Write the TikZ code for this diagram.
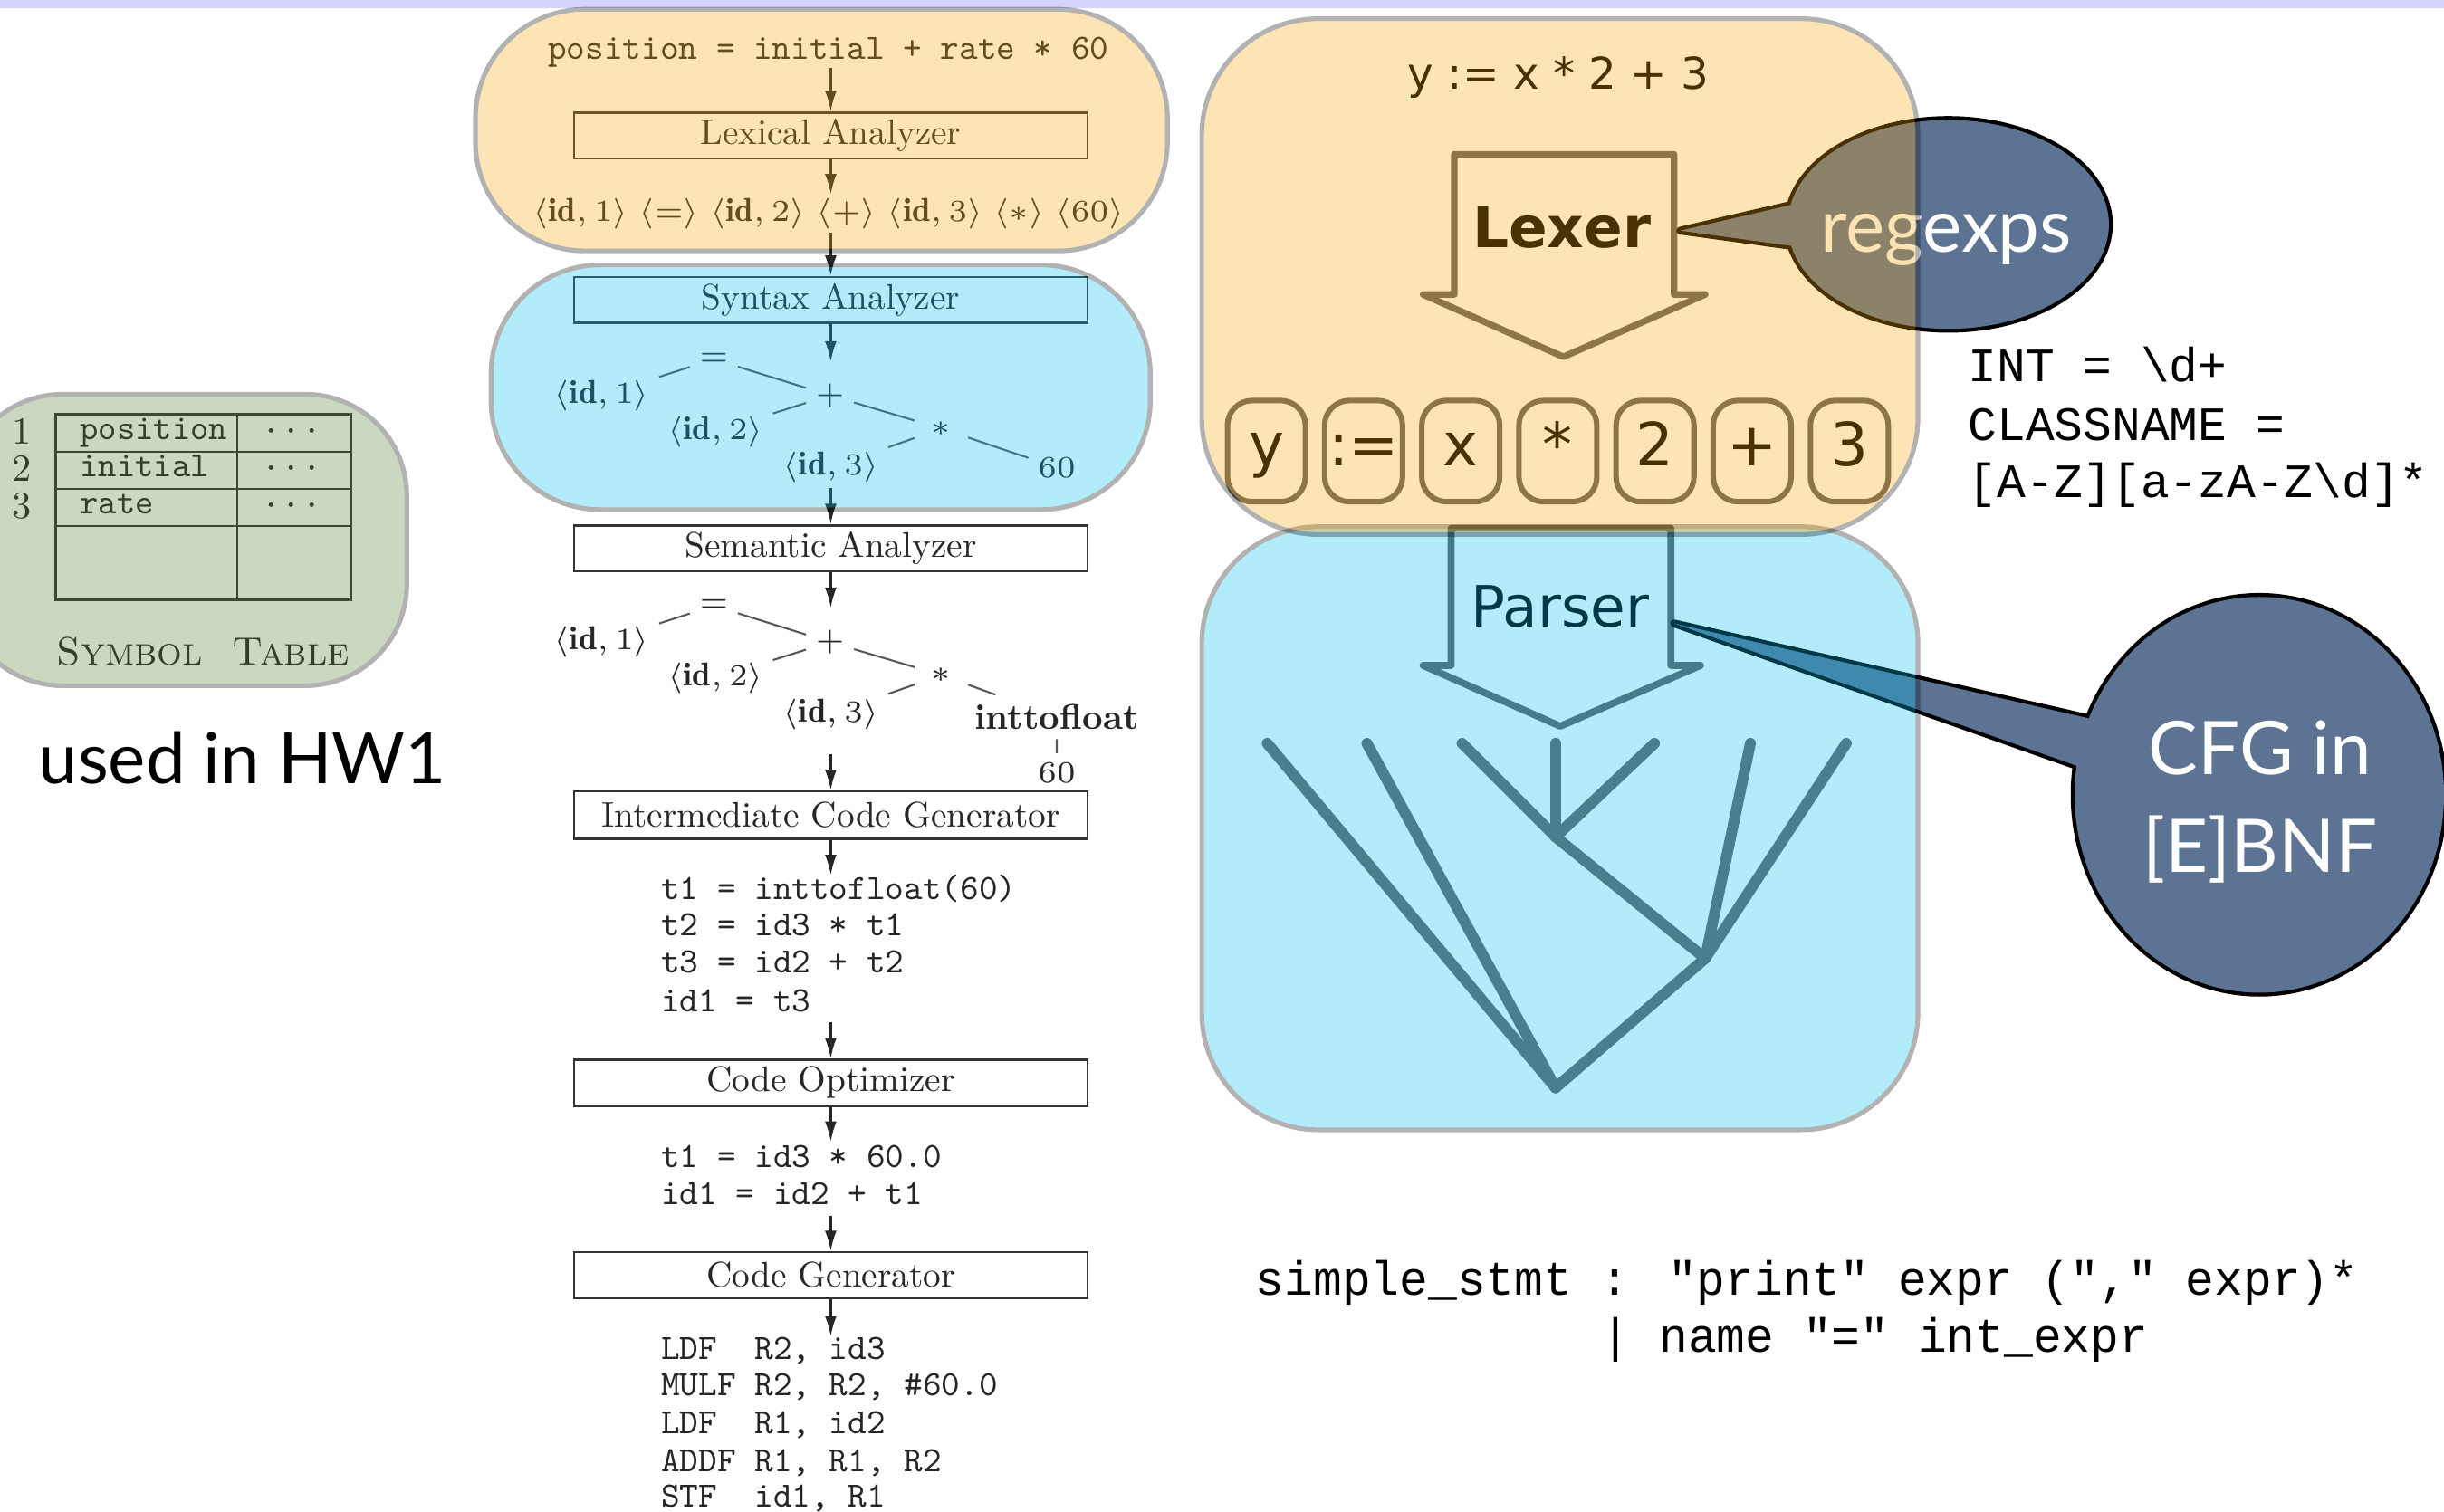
\documentclass[tikz,border=0pt]{standalone}
\usepackage{fontspec}
\usetikzlibrary{arrows.meta}
\newfontfamily\lmten[Extension=.otf,BoldFont=lmroman10-bold,SmallCapsFont=lmromancaps10-regular]{lmroman10-regular}
\newfontfamily\lmtt[Extension=.otf]{lmmono10-regular}
\newfontfamily\gill{Lato}
\newfontfamily\dejavu{DejaVu Sans}
\newfontfamily\cour{Liberation Mono}
\newcommand\pipesize{\fontsize{6.5}{8}\selectfont}
\definecolor{topband}{RGB}{213,213,255}
\definecolor{ovorange}{RGB}{248,165,8}
\definecolor{ovblue}{RGB}{0,188,238}
\definecolor{ovgreen}{RGB}{75,125,42}
\definecolor{bubble}{RGB}{92,115,147}
\newcommand\tokid[1]{$\langle\mathbf{id},#1\rangle$}

\begin{document}
\begin{tikzpicture}[x=0.1mm,y=-0.1mm,
  pipetxt/.style={font=\lmten\pipesize, text=black!85, inner sep=0.2mm},
  pipecode/.style={font=\lmtt\pipesize, text=black!85, inner sep=0pt, anchor=west, text height=4.2pt, text depth=1.3pt},
  stagebox/.style={draw=black!80, line width=0.45pt, minimum width=32.95mm, minimum height=2.95mm, inner sep=0pt, font=\lmten\pipesize, text=black!85},
  flow/.style={draw=black!85, line width=0.4pt, -{Latex[length=1.3mm,width=0.75mm]}},
  tnode/.style={font=\lmten\pipesize, text=black!85, inner sep=0.55mm},
  mnode/.style={tnode, scale=0.93, inner sep=0.6mm},
  tedge/.style={draw=black!65, line width=0.35pt},
  tblline/.style={draw=black!80, line width=0.4pt},
  tblnum/.style={font=\lmten\fontsize{7}{8}\selectfont, text=black!85, inner sep=0pt},
  tblname/.style={font=\lmtt\fontsize{6.4}{8}\selectfont, anchor=west, inner sep=0pt, text=black!85, text height=4.2pt, text depth=1.3pt},
  blockarrow/.style={draw=black!62, line width=0.42mm, line join=round},
  token/.style={draw=black!62, line width=0.35mm, rounded corners=1.6mm, minimum width=5mm, minimum height=6.5mm, inner sep=0pt, font=\dejavu\fontsize{10.9}{13}\selectfont, text height=8pt, text depth=2.5pt},
  ptree/.style={draw=black!60, line width=0.7mm, line cap=round, line join=round},
  bubbleedge/.style={fill=bubble, draw=black, line width=0.5mm, line join=round},
  bubbletxt/.style={font=\gill\fontsize{13.5}{16}\selectfont, text=white, inner sep=0pt},
  mono/.style={font=\cour\fontsize{8.75}{10}\selectfont, anchor=base west, inner sep=0pt},
  overlay/.style={draw=black, line width=0.3mm}
]
\useasboundingbox (0,0) rectangle (1568,970);
\fill[topband] (0,0) rectangle (1568,5.2);

% ---------------- compiler phases ----------------
\node[pipecode, anchor=center] (src) at (531.5,33) {position = initial + rate * 60};
\node[stagebox] (lex) at (533,86.9) {Lexical Analyzer};
\node[pipetxt, scale=0.93] (tok) at (531.5,137) {$\langle\mathbf{id},1\rangle\ \langle{=}\rangle\ \langle\mathbf{id},2\rangle\ \langle{+}\rangle\ \langle\mathbf{id},3\rangle\ \langle{\ast}\rangle\ \langle60\rangle$};
\node[stagebox] (syn) at (533,192.5) {Syntax Analyzer};
\draw[flow] (src.south -| lex) -- (lex);
\draw[flow] (lex) -- (tok.north -| lex);
\draw[flow] (tok.south -| lex) -- (syn);

% syntax tree
\node[mnode] (sEq) at (458,230.5) {$=$};
\node[mnode] (sId1) at (386,253.8) {\tokid{1}};
\node[mnode] (sPlus) at (532.5,253.7) {$+$};
\node[mnode] (sId2) at (459,277) {\tokid{2}};
\node[mnode, inner sep=1.1mm] (sStar) at (604,275) {$\ast$};
\node[mnode] (sId3) at (533,300) {\tokid{3}};
\node[mnode] (sSixty) at (678,300) {$60$};
\draw[tedge] (sEq) -- (sId1);
\draw[tedge] (sEq) -- (sPlus);
\draw[tedge] (sPlus) -- (sId2);
\draw[tedge] (sPlus) -- (sStar);
\draw[tedge] (sStar) -- (sId3);
\draw[tedge] (sStar) -- (sSixty);
\coordinate (sTop) at (533,232);
\coordinate (sBot) at (533,313);
\draw[flow] (syn) -- (sTop);

\node[stagebox] (sem) at (533,351.8) {Semantic Analyzer};
\draw[flow] (sBot) -- (sem);

% annotated tree
\node[mnode] (eEq) at (458,388.7) {$=$};
\node[mnode] (eId1) at (386,412) {\tokid{1}};
\node[mnode] (ePlus) at (532.5,412) {$+$};
\node[mnode] (eId2) at (459,435.2) {\tokid{2}};
\node[mnode, inner sep=1.1mm] (eStar) at (604,433.2) {$\ast$};
\node[mnode] (eId3) at (533,458.2) {\tokid{3}};
\node[tnode] (eItf) at (678,460) {\textbf{inttofloat}};
\node[mnode] (eSixty) at (678,495.8) {$60$};
\draw[tedge] (eEq) -- (eId1);
\draw[tedge] (eEq) -- (ePlus);
\draw[tedge] (ePlus) -- (eId2);
\draw[tedge] (ePlus) -- (eStar);
\draw[tedge] (eStar) -- (eId3);
\draw[tedge] (eStar) -- (eItf);
\draw[tedge] (eItf) -- (eSixty);
\coordinate (eTop) at (533,390);
\coordinate (eBot) at (533,484);
\draw[flow] (sem) -- (eTop);

\node[stagebox, minimum height=3.05mm] (icg) at (533,523) {Intermediate Code Generator};
\draw[flow] (eBot) -- (icg);
\coordinate (icgOut) at (533,561.5);
\draw[flow] (icg) -- (icgOut);
\node[pipecode] (ic1) at (423.5,572) {t1 = inttofloat(60)};
\node[pipecode] (ic2) at (423.5,595.5) {t2 = id3 * t1};
\node[pipecode] (ic3) at (423.5,619) {t3 = id2 + t2};
\node[pipecode] (ic4) at (423.5,644) {id1 = t3};

\coordinate (icEnd) at (533,656);
\node[stagebox] (opt) at (533,694.7) {Code Optimizer};
\draw[flow] (icEnd) -- (opt);
\coordinate (optOut) at (533,732.6);
\draw[flow] (opt) -- (optOut);
\node[pipecode] (oc1) at (423.5,744) {t1 = id3 * 60.0};
\node[pipecode] (oc2) at (423.5,767.6) {id1 = id2 + t1};

\coordinate (ocEnd) at (533,780);
\node[stagebox] (gen) at (533,818.3) {Code Generator};
\draw[flow] (ocEnd) -- (gen);
\coordinate (genOut) at (533,857.5);
\draw[flow] (gen) -- (genOut);
\node[pipecode] (as1) at (423.5,867.5) {LDF\ \ R2, id3};
\node[pipecode] (as2) at (423.5,890.6) {MULF R2, R2, \#60.0};
\node[pipecode] (as3) at (423.5,914.8) {LDF\ \ R1, id2};
\node[pipecode] (as4) at (423.5,939) {ADDF R1, R1, R2};
\node[pipecode] (as5) at (423.5,962) {STF\ \ id1, R1};

% ---------------- symbol table ----------------
\draw[tblline] (35.8,265.9) rectangle (225.5,385);
\draw[tblline] (152.3,265.9) -- (152.3,385);
\foreach \yy in {290,313.7,337.5} \draw[tblline] (35.8,\yy) -- (225.5,\yy);
\node[tblnum] (n1) at (14,277) {1};
\node[tblnum] (n2) at (14,300.5) {2};
\node[tblnum] (n3) at (14,324.4) {3};
\node[tblname] (v1) at (50.7,277) {position};
\node[tblname] (v2) at (50.7,300.5) {initial};
\node[tblname] (v3) at (50.7,324.4) {rate};
\node[tblnum] (d1) at (187,277) {$\cdots$};
\node[tblnum] (d2) at (187,300.5) {$\cdots$};
\node[tblnum] (d3) at (187,324.4) {$\cdots$};
\node[font=\lmten\fontsize{7.2}{9}\selectfont, text=black!85, inner sep=0pt] (symtab) at (130.3,418.3) {\textsc{Symbol\hspace{0.75em}Table}};

% ---------------- lexer / parser ----------------
\node[font=\dejavu\fontsize{8}{10}\selectfont, anchor=base, inner sep=0pt] (expr) at (1000,57.5) {y := x * 2 + 3};
\draw[blockarrow] (933,99) -- (933,189) -- (913,189) -- (1003,229) -- (1094,189) -- (1074,189) -- (1074,99) -- cycle;
\node[font=\dejavu\bfseries\fontsize{10.4}{12}\selectfont, anchor=base, inner sep=0pt] (lexer) at (1002,159) {Lexer};
\foreach \t [count=\i from 0] in {y,{:=},x,*,2,+,3}
  \node[token] (tk\i) at ({812.5+62.33*\i},289.5) {\t};

\draw[blockarrow, line width=0.45mm] (931,339) -- (931,427) -- (913,427) -- (1001,466) -- (1091,427) -- (1072,427) -- (1072,339) -- cycle;
\node[font=\dejavu\fontsize{10.4}{12}\selectfont, anchor=base, inner sep=0pt] (parser) at (1001,402.6) {Parser};

% parse tree
\coordinate (L1) at (813,477);
\coordinate (L2) at (877,477);
\coordinate (L3) at (938,477);
\coordinate (L4) at (998,477);
\coordinate (L5) at (1061.5,477);
\coordinate (L6) at (1123,477);
\coordinate (L7) at (1184.5,477);
\coordinate (nA) at (998,537);
\coordinate (nB) at (1094,615);
\coordinate (nR) at (998,698);
\draw[ptree] (L1) -- (nR);
\draw[ptree] (L2) -- (nR);
\draw[ptree] (L3) -- (nA);
\draw[ptree] (L4) -- (nA);
\draw[ptree] (L5) -- (nA);
\draw[ptree] (nA) -- (nB);
\draw[ptree] (L6) -- (nB);
\draw[ptree] (L7) -- (nB);
\draw[ptree] (nB) -- (nR);

% callout bubbles
\coordinate (rxTip) at (1078,148);
\coordinate (rxB1) at (1167.7,127.2);
\coordinate (rxB2) at (1170.3,160.7);
\filldraw[bubbleedge] (rxTip) -- (rxB1) -- (rxB2) -- cycle;
\filldraw[bubbleedge] (1250,144) ellipse [x radius=10.3mm, y radius=6.7mm];
\fill[bubble] (rxTip) -- (rxB1) -- (rxB2) -- cycle;
\fill[bubble] (1250,144) ellipse [x radius=10.3mm, y radius=6.7mm];
\node[bubbletxt, anchor=base] (rx) at (1248.5,161.6) {regexps};

\coordinate (cfgTip) at (1074,400);
\coordinate (cfgB1) at (1366.6,467);
\coordinate (cfgB2) at (1356.7,500);
\filldraw[bubbleedge] (cfgTip) -- (cfgB1) -- (cfgB2) -- cycle;
\filldraw[bubbleedge] (1449.5,510) ellipse [x radius=11.85mm, y radius=12.7mm];
\fill[bubble] (cfgTip) -- (cfgB1) -- (cfgB2) -- cycle;
\fill[bubble] (1449.5,510) ellipse [x radius=11.85mm, y radius=12.7mm];
\node[bubbletxt, anchor=base] (cfg1) at (1450,497) {CFG in};
\node[bubbletxt, anchor=base] (cfg2) at (1450,560) {[E]BNF};

% ---------------- tinted overlays ----------------
\begin{scope}[transparency group, opacity=0.3]
  \filldraw[overlay, fill=ovorange, rounded corners=7mm] (305,6) rectangle (749,161);
\end{scope}
\begin{scope}[transparency group, opacity=0.3]
  \filldraw[overlay, fill=ovblue, rounded corners=7mm] (315,170) rectangle (738,327);
\end{scope}
\begin{scope}[transparency group, opacity=0.3]
  \filldraw[overlay, fill=ovgreen, rounded corners=6.5mm] (-25,253) rectangle (261,440);
\end{scope}
\begin{scope}[transparency group, opacity=0.3]
  \filldraw[overlay, fill=ovblue, rounded corners=7.5mm] (771,338) rectangle (1230.5,725);
\end{scope}
\begin{scope}[transparency group, opacity=0.3]
  \filldraw[overlay, fill=ovorange, rounded corners=7.5mm] (771,12) rectangle (1230.5,343);
\end{scope}

% ---------------- plain annotations ----------------
\node[font=\gill\fontsize{12.9}{15}\selectfont, anchor=base, inner sep=0pt] (hw) at (155.5,502.6) {used in HW1};
\node[mono] (rule1) at (1262,245) {INT = \textbackslash d+};
\node[mono] (rule2) at (1262,282.7) {CLASSNAME =};
\node[mono] (rule3) at (1262,319.5) {[A-Z][a-zA-Z\textbackslash d]*};
\node[mono] (gram1) at (805,830.8) {simple\_stmt : "print" expr ("," expr)*};
\node[mono] (gram2) at (1026.9,867.5) {| name "=" int\_expr};
\end{tikzpicture}
\end{document}
